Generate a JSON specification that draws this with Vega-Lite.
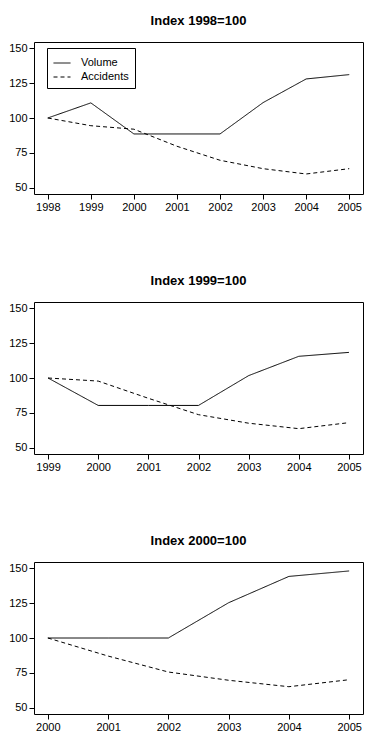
{
  "$schema": "https://vega.github.io/schema/vega-lite/v6.json",
  "background": "white",
  "padding": {"left": 8, "top": 14, "right": 0, "bottom": 0},
  "spacing": 61,
  "config": {
    "font": "Liberation Sans",
    "view": {"stroke": "black", "strokeWidth": 1},
    "title": {"fontSize": 13, "fontWeight": "bold", "font": "Liberation Sans", "color": "black", "offset": 14, "anchor": "middle"},
    "axis": {"grid": false, "domain": false, "tickColor": "black", "tickSize": 5, "labelColor": "black", "labelFontSize": 11, "labelFont": "Liberation Sans", "labelPadding": 2, "title": null}
  },
  "datasets": {
    "d": [
      {"panel": 1, "year": 1998, "series": "Volume", "value": 100},
      {"panel": 1, "year": 1999, "series": "Volume", "value": 110.8},
      {"panel": 1, "year": 2000, "series": "Volume", "value": 88.6},
      {"panel": 1, "year": 2001, "series": "Volume", "value": 88.6},
      {"panel": 1, "year": 2002, "series": "Volume", "value": 88.6},
      {"panel": 1, "year": 2003, "series": "Volume", "value": 111},
      {"panel": 1, "year": 2004, "series": "Volume", "value": 127.9},
      {"panel": 1, "year": 2005, "series": "Volume", "value": 131},
      {"panel": 1, "year": 1998, "series": "Accidents", "value": 100},
      {"panel": 1, "year": 1999, "series": "Accidents", "value": 94.5},
      {"panel": 1, "year": 2000, "series": "Accidents", "value": 92},
      {"panel": 1, "year": 2001, "series": "Accidents", "value": 79.8},
      {"panel": 1, "year": 2002, "series": "Accidents", "value": 69.8},
      {"panel": 1, "year": 2003, "series": "Accidents", "value": 63.8},
      {"panel": 1, "year": 2004, "series": "Accidents", "value": 60},
      {"panel": 1, "year": 2005, "series": "Accidents", "value": 63.8},
      {"panel": 2, "year": 1999, "series": "Volume", "value": 100},
      {"panel": 2, "year": 2000, "series": "Volume", "value": 80.4},
      {"panel": 2, "year": 2001, "series": "Volume", "value": 80.4},
      {"panel": 2, "year": 2002, "series": "Volume", "value": 80.4},
      {"panel": 2, "year": 2003, "series": "Volume", "value": 101.7},
      {"panel": 2, "year": 2004, "series": "Volume", "value": 115.5},
      {"panel": 2, "year": 2005, "series": "Volume", "value": 118.3},
      {"panel": 2, "year": 1999, "series": "Accidents", "value": 100},
      {"panel": 2, "year": 2000, "series": "Accidents", "value": 97.8},
      {"panel": 2, "year": 2001, "series": "Accidents", "value": 85.5},
      {"panel": 2, "year": 2002, "series": "Accidents", "value": 73.8},
      {"panel": 2, "year": 2003, "series": "Accidents", "value": 67.7},
      {"panel": 2, "year": 2004, "series": "Accidents", "value": 63.8},
      {"panel": 2, "year": 2005, "series": "Accidents", "value": 68.1},
      {"panel": 3, "year": 2000, "series": "Volume", "value": 100},
      {"panel": 3, "year": 2001, "series": "Volume", "value": 100},
      {"panel": 3, "year": 2002, "series": "Volume", "value": 100},
      {"panel": 3, "year": 2003, "series": "Volume", "value": 125.2},
      {"panel": 3, "year": 2004, "series": "Volume", "value": 144},
      {"panel": 3, "year": 2005, "series": "Volume", "value": 147.9},
      {"panel": 3, "year": 2000, "series": "Accidents", "value": 100},
      {"panel": 3, "year": 2001, "series": "Accidents", "value": 87.1},
      {"panel": 3, "year": 2002, "series": "Accidents", "value": 75.7},
      {"panel": 3, "year": 2003, "series": "Accidents", "value": 69.8},
      {"panel": 3, "year": 2004, "series": "Accidents", "value": 65.2},
      {"panel": 3, "year": 2005, "series": "Accidents", "value": 70.2}
    ]
  },
  "resolve": {"scale": {"strokeDash": "independent", "x": "independent"}, "legend": {"strokeDash": "independent"}},
  "vconcat": [
    {
      "title": "Index 1998=100",
      "width": 329, "height": 152,
      "data": {"name": "d"},
      "transform": [{"filter": "datum.panel == 1"}],
      "mark": {"type": "line", "color": "black", "strokeWidth": 1},
      "encoding": {
        "x": {"field": "year", "type": "quantitative", "scale": {"domain": [1997.68, 2005.32], "nice": false, "zero": false}, "axis": {"values": [1998, 1999, 2000, 2001, 2002, 2003, 2004, 2005], "format": "d"}},
        "y": {"field": "value", "type": "quantitative", "scale": {"domain": [45.7, 154.3], "nice": false, "zero": false}, "axis": {"values": [50, 75, 100, 125, 150]}},
        "strokeDash": {"field": "series", "type": "nominal", "sort": ["Volume", "Accidents"],
          "scale": {"domain": ["Volume", "Accidents"], "range": [[1, 0], [4, 3]]},
          "legend": {"title": null, "orient": "none", "legendX": 13, "legendY": 6, "strokeColor": "black", "padding": 6, "symbolType": "stroke", "symbolStrokeColor": "black", "symbolStrokeWidth": 1, "symbolSize": 289, "labelFontSize": 11, "labelColor": "black", "labelFont": "Liberation Sans", "labelOffset": 10, "rowPadding": -5, "fillColor": "white"}
        }
      }
    },
    {
      "title": "Index 1999=100",
      "width": 329, "height": 152,
      "data": {"name": "d"},
      "transform": [{"filter": "datum.panel == 2"}],
      "mark": {"type": "line", "color": "black", "strokeWidth": 1},
      "encoding": {
        "x": {"field": "year", "type": "quantitative", "scale": {"domain": [1998.72, 2005.28], "nice": false, "zero": false}, "axis": {"values": [1999, 2000, 2001, 2002, 2003, 2004, 2005], "format": "d"}},
        "y": {"field": "value", "type": "quantitative", "scale": {"domain": [45.7, 154.3], "nice": false, "zero": false}, "axis": {"values": [50, 75, 100, 125, 150]}},
        "strokeDash": {"field": "series", "type": "nominal",
          "scale": {"domain": ["Volume", "Accidents"], "range": [[1, 0], [4, 3]]}, "legend": null}
      }
    },
    {
      "title": "Index 2000=100",
      "width": 329, "height": 152,
      "data": {"name": "d"},
      "transform": [{"filter": "datum.panel == 3"}],
      "mark": {"type": "line", "color": "black", "strokeWidth": 1},
      "encoding": {
        "x": {"field": "year", "type": "quantitative", "scale": {"domain": [1999.77, 2005.23], "nice": false, "zero": false}, "axis": {"values": [2000, 2001, 2002, 2003, 2004, 2005], "format": "d"}},
        "y": {"field": "value", "type": "quantitative", "scale": {"domain": [45.7, 154.3], "nice": false, "zero": false}, "axis": {"values": [50, 75, 100, 125, 150]}},
        "strokeDash": {"field": "series", "type": "nominal",
          "scale": {"domain": ["Volume", "Accidents"], "range": [[1, 0], [4, 3]]}, "legend": null}
      }
    }
  ]
}
